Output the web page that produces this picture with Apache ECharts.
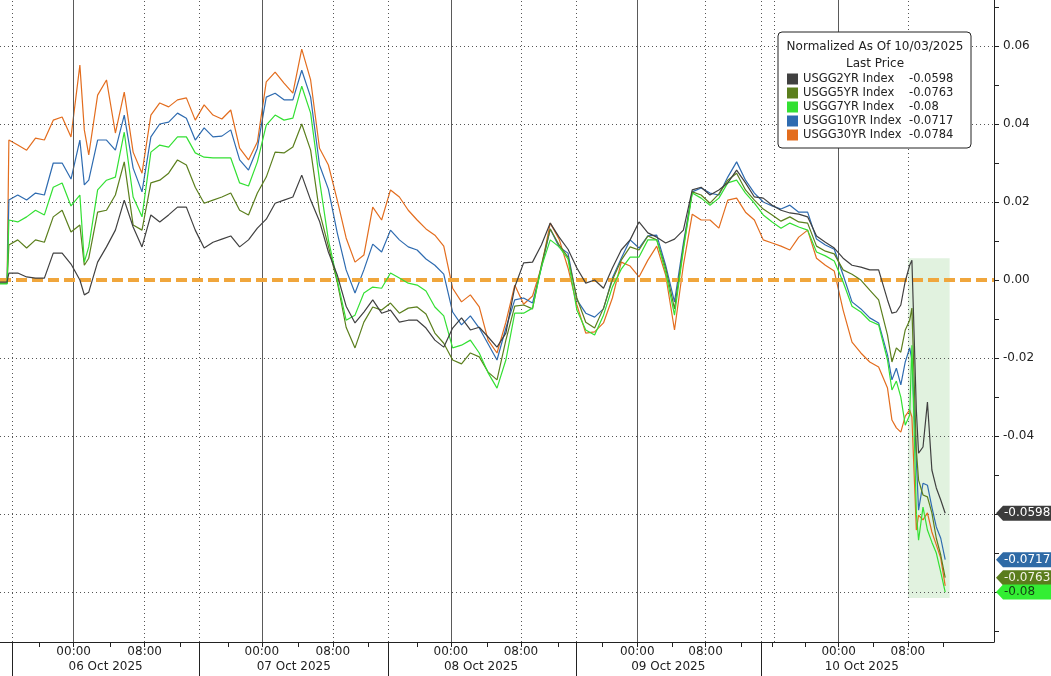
<!DOCTYPE html>
<html>
<head>
<meta charset="utf-8">
<script src="https://cdn.jsdelivr.net/npm/echarts@6/dist/echarts.min.js"></script>
<style>
html,body{margin:0;padding:0;background:#ffffff;}
#chart{width:1051px;height:676px;}
</style>
</head>
<body>
<div id="chart"></div>
<script>
// ---- time axis (session hours, gaps removed) ----
const hours = [0, 0.8, 1, 2, 3, 4, 5, 6, 7, 8, 9, 9.5,
  10, 11, 12, 13, 14, 15, 16, 17, 18, 19,
  20, 21, 22, 23, 24, 25, 26, 27, 28, 29,
  30, 31, 32, 33, 34, 35, 36, 37, 38, 39,
  40, 41, 42, 43, 44, 45, 46, 47, 48, 49,
  50, 51, 52, 53, 54, 55, 56, 57, 58, 59,
  60, 61, 62, 63, 64, 65, 66, 67, 68, 69,
  70, 71, 72, 73, 74, 75, 76, 77, 78, 79,
  80, 81, 82, 83, 84, 85, 86, 87, 88, 89,
  90, 91, 92, 93, 94, 95, 96, 97, 98, 99,
  100, 100.5, 101, 101.5, 102, 102.5, 102.75, 103.25, 103.5, 104, 104.5, 105, 105.5, 106, 106.5];

// ---- series values (normalized yield change as of 10/03/2025) ----
const usgg30 = [-0.0005, -0.0005, 0.0359, 0.0346, 0.0333, 0.0364, 0.0359, 0.0410, 0.0418, 0.0367, 0.0551, 0.0385,
  0.0321, 0.0474, 0.0513, 0.0377, 0.0482, 0.0328, 0.0274, 0.0423, 0.0454, 0.0444,
  0.0462, 0.0467, 0.0410, 0.0449, 0.0423, 0.0413, 0.0436, 0.0338, 0.0308, 0.0354,
  0.0508, 0.0533, 0.0505, 0.0479, 0.0592, 0.0513, 0.0338, 0.0295, 0.0205, 0.0108,
  0.0046, 0.0064, 0.0187, 0.0154, 0.0231, 0.0213, 0.0179, 0.0154, 0.0131, 0.0115,
  0.0087, -0.0021, -0.0056, -0.0038, -0.0069, -0.0154, -0.0187, -0.0108, -0.0013, -0.0062,
  -0.0041, 0.0033, 0.0146, 0.0105, 0.0031, -0.0064, -0.0136, -0.0133, -0.0110, -0.0046,
  0.0046, 0.0036, 0.0008, 0.0051, 0.0087, 0.0013, -0.0128, 0.0038, 0.0169, 0.0154,
  0.0154, 0.0133, 0.0205, 0.0210, 0.0174, 0.0154, 0.0103, 0.0095, 0.0087, 0.0077,
  0.0110, 0.0128, 0.0056, 0.0038, 0.0023, -0.0077, -0.0159, -0.0187, -0.0210, -0.0223,
  -0.0277, -0.0359, -0.0379, -0.0390, -0.0349, -0.0333, -0.0351, -0.0641, -0.0603, -0.0615, -0.0597, -0.0646, -0.0679, -0.0713, -0.0784];

const usgg10 = [-0.0008, -0.0008, 0.0205, 0.0218, 0.0205, 0.0223, 0.0218, 0.0300, 0.0300, 0.0259, 0.0359, 0.0244,
  0.0256, 0.0359, 0.0359, 0.0333, 0.0423, 0.0287, 0.0226, 0.0367, 0.0400, 0.0405,
  0.0428, 0.0415, 0.0359, 0.0390, 0.0367, 0.0369, 0.0385, 0.0308, 0.0282, 0.0338,
  0.0469, 0.0479, 0.0462, 0.0462, 0.0538, 0.0469, 0.0295, 0.0233, 0.0121, 0.0026,
  -0.0033, 0.0026, 0.0092, 0.0072, 0.0128, 0.0103, 0.0085, 0.0077, 0.0054, 0.0038,
  0.0015, -0.0082, -0.0115, -0.0092, -0.0123, -0.0164, -0.0205, -0.0123, -0.0051, -0.0046,
  -0.0059, 0.0031, 0.0131, 0.0085, 0.0069, -0.0051, -0.0085, -0.0095, -0.0074, 0.0005,
  0.0056, 0.0103, 0.0082, 0.0113, 0.0115, 0.0038, -0.0056, 0.0095, 0.0226, 0.0236,
  0.0223, 0.0218, 0.0264, 0.0303, 0.0256, 0.0223, 0.0200, 0.0190, 0.0182, 0.0192,
  0.0174, 0.0174, 0.0105, 0.0090, 0.0079, 0.0013, -0.0056, -0.0074, -0.0097, -0.0110,
  -0.0192, -0.0256, -0.0226, -0.0269, -0.0210, -0.0174, -0.0205, -0.0462, -0.0590, -0.0521, -0.0526, -0.0582, -0.0633, -0.0662, -0.0717];

const usgg7 = [-0.0010, -0.0010, 0.0154, 0.0149, 0.0162, 0.0179, 0.0167, 0.0238, 0.0249, 0.0190, 0.0218, 0.0046,
  0.0085, 0.0231, 0.0256, 0.0264, 0.0379, 0.0213, 0.0162, 0.0328, 0.0346, 0.0341,
  0.0367, 0.0367, 0.0326, 0.0315, 0.0313, 0.0313, 0.0313, 0.0249, 0.0241, 0.0303,
  0.0397, 0.0423, 0.0410, 0.0415, 0.0497, 0.0428, 0.0256, 0.0103, 0.0000, -0.0103,
  -0.0090, -0.0033, -0.0018, -0.0021, 0.0018, 0.0005, -0.0008, -0.0013, -0.0028, -0.0069,
  -0.0092, -0.0174, -0.0167, -0.0154, -0.0187, -0.0238, -0.0277, -0.0205, -0.0085, -0.0085,
  -0.0072, 0.0033, 0.0103, 0.0085, 0.0054, -0.0077, -0.0128, -0.0141, -0.0090, -0.0018,
  0.0028, 0.0059, 0.0059, 0.0103, 0.0103, 0.0021, -0.0090, 0.0077, 0.0223, 0.0210,
  0.0192, 0.0210, 0.0249, 0.0256, 0.0223, 0.0197, 0.0167, 0.0149, 0.0133, 0.0146,
  0.0136, 0.0128, 0.0072, 0.0062, 0.0049, -0.0005, -0.0067, -0.0082, -0.0105, -0.0115,
  -0.0205, -0.0282, -0.0259, -0.0300, -0.0372, -0.0346, -0.0167, -0.0597, -0.0667, -0.0582, -0.0641, -0.0672, -0.0700, -0.0749, -0.0800];

const usgg5 = [-0.0008, -0.0008, 0.0090, 0.0103, 0.0082, 0.0103, 0.0097, 0.0162, 0.0179, 0.0123, 0.0141, 0.0038,
  0.0056, 0.0174, 0.0179, 0.0218, 0.0303, 0.0141, 0.0128, 0.0249, 0.0256, 0.0274,
  0.0308, 0.0295, 0.0238, 0.0197, 0.0205, 0.0213, 0.0223, 0.0179, 0.0167, 0.0223,
  0.0264, 0.0328, 0.0326, 0.0341, 0.0400, 0.0333, 0.0174, 0.0087, -0.0005, -0.0121,
  -0.0174, -0.0108, -0.0069, -0.0077, -0.0059, -0.0085, -0.0072, -0.0069, -0.0087, -0.0136,
  -0.0162, -0.0205, -0.0215, -0.0187, -0.0197, -0.0236, -0.0256, -0.0154, -0.0067, -0.0064,
  -0.0074, 0.0038, 0.0131, 0.0090, 0.0059, -0.0046, -0.0108, -0.0123, -0.0072, 0.0000,
  0.0051, 0.0085, 0.0077, 0.0113, 0.0103, 0.0031, -0.0074, 0.0085, 0.0226, 0.0218,
  0.0197, 0.0221, 0.0256, 0.0274, 0.0231, 0.0205, 0.0182, 0.0167, 0.0151, 0.0162,
  0.0149, 0.0146, 0.0087, 0.0074, 0.0067, 0.0026, 0.0015, 0.0000, -0.0026, -0.0051,
  -0.0141, -0.0210, -0.0174, -0.0185, -0.0128, -0.0103, -0.0072, -0.0436, -0.0513, -0.0551, -0.0556, -0.0597, -0.0662, -0.0705, -0.0763];

const usgg2 = [-0.0005, -0.0005, 0.0018, 0.0018, 0.0008, 0.0005, 0.0005, 0.0069, 0.0069, 0.0041, 0.0000, -0.0038,
  -0.0031, 0.0046, 0.0085, 0.0128, 0.0205, 0.0136, 0.0085, 0.0167, 0.0149, 0.0167,
  0.0187, 0.0187, 0.0128, 0.0082, 0.0097, 0.0105, 0.0113, 0.0085, 0.0103, 0.0133,
  0.0156, 0.0197, 0.0205, 0.0213, 0.0269, 0.0205, 0.0151, 0.0072, 0.0013, -0.0067,
  -0.0110, -0.0082, -0.0051, -0.0085, -0.0077, -0.0108, -0.0103, -0.0103, -0.0123, -0.0154,
  -0.0172, -0.0123, -0.0097, -0.0128, -0.0121, -0.0146, -0.0172, -0.0136, -0.0018, 0.0044,
  0.0046, 0.0090, 0.0146, 0.0110, 0.0079, 0.0031, -0.0008, 0.0000, -0.0021, 0.0031,
  0.0077, 0.0103, 0.0149, 0.0121, 0.0110, 0.0095, 0.0105, 0.0128, 0.0231, 0.0238,
  0.0218, 0.0231, 0.0249, 0.0282, 0.0249, 0.0213, 0.0210, 0.0192, 0.0179, 0.0172,
  0.0169, 0.0162, 0.0113, 0.0097, 0.0082, 0.0056, 0.0038, 0.0033, 0.0026, 0.0026,
  -0.0051, -0.0085, -0.0082, -0.0064, -0.0003, 0.0038, 0.0051, -0.0333, -0.0444, -0.0428, -0.0313, -0.0487, -0.0533, -0.0564, -0.0598];

// ---- axis ticks / labels ----
const midnights = [8.3, 29.5, 50.8, 71.8, 94.5];
const eights = [16.3, 37.5, 58.7, 79.5, 102.3];
const sessionSeps = [1.35, 22.5, 43.7, 64.9, 85.8];
const extraDotted = [87.2];
const fourHourTicks = [4.4, 8.3, 12.4, 16.3, 20.3, 25.7, 29.5, 33.6, 37.5, 41.5,
  47.0, 50.8, 54.9, 58.7, 62.9, 67.9, 71.8, 75.7, 79.5, 83.5, 87.0,
  90.7, 94.5, 98.4, 102.3, 106.3];
const dayCenters = [11.9, 33.1, 54.2, 75.3, 97.1];
const dayLabels = ['06 Oct 2025', '07 Oct 2025', '08 Oct 2025', '09 Oct 2025', '10 Oct 2025'];
const yLabelValues = [-0.08, -0.06, -0.04, -0.02, 0, 0.02, 0.04, 0.06];
const yTickValues = [-0.09, -0.08, -0.07, -0.06, -0.05, -0.04, -0.03, -0.02, -0.01, 0, 0.01, 0.02, 0.03, 0.04, 0.05, 0.06, 0.07];
const highlightBox = { x0: 102.3, x1: 107.0, y0: 0.0056, y1: -0.0815 };

const seriesNames = ['USGG2YR', 'USGG5YR', 'USGG7YR', 'USGG10YR', 'USGG30YR'];
const lastPrices = { USGG2YR: -0.0598, USGG5YR: -0.0763, USGG7YR: -0.08, USGG10YR: -0.0717, USGG30YR: -0.0784 };
const seriesValues = { USGG2YR: usgg2, USGG5YR: usgg5, USGG7YR: usgg7, USGG10YR: usgg10, USGG30YR: usgg30 };
const colors = { USGG2YR: '#404040', USGG5YR: '#5b7f1d', USGG7YR: '#33e033', USGG10YR: '#2e6bb0', USGG30YR: '#e36d1e' };
const tagColors = { USGG2YR: '#3c3c3c', USGG5YR: '#5a7d1c', USGG7YR: '#33ee33', USGG10YR: '#2e6aa6' };
const tagText = { USGG2YR: '#ffffff', USGG5YR: '#f2f2e6', USGG7YR: '#143c14', USGG10YR: '#ffffff' };

seriesNames.forEach(n => { if (seriesValues[n].length !== hours.length) throw new Error(n + ' length ' + seriesValues[n].length + ' vs ' + hours.length); });

const FONT = 'DejaVu Sans';
const chart = echarts.init(document.getElementById('chart'), null, { renderer: 'canvas' });

const dotted = { color: '#555', type: [1, 3], width: 1 };
const gridLines = []
  .concat(midnights.map(h => ({ xAxis: h, lineStyle: { color: '#5a5a5a', type: 'solid', width: 1 } })))
  .concat(eights.concat(sessionSeps, extraDotted).map(h => ({ xAxis: h, lineStyle: dotted })))
  .concat(yLabelValues.filter(v => v !== 0).map(v => ({ yAxis: v, lineStyle: dotted })));

const drawOrder = ['USGG30YR', 'USGG10YR', 'USGG5YR', 'USGG7YR', 'USGG2YR'];
const lineSeries = drawOrder.map((name, i) => ({
  name: name,
  type: 'line',
  data: hours.map((h, k) => [h, seriesValues[name][k]]),
  showSymbol: false,
  symbol: 'none',
  color: colors[name],
  lineStyle: { color: colors[name], width: 1.2 },
  z: 3 + i,
  animation: false
}));

// 30YR tag sits hidden behind the others in the reference, so only these are drawn
const tagOrder = ['USGG10YR', 'USGG5YR', 'USGG7YR', 'USGG2YR'];

const option = {
  backgroundColor: '#ffffff',
  animation: false,
  textStyle: { fontFamily: FONT },
  grid: { left: 0, right: 57, top: 0, bottom: 34, containLabel: false },
  xAxis: [
    {
      type: 'value', min: 0, max: 112, position: 'bottom',
      axisLine: { show: true, onZero: false, lineStyle: { color: '#222', width: 1 } },
      axisTick: { show: true, customValues: fourHourTicks, length: 5, lineStyle: { color: '#222' } },
      axisLabel: {
        customValues: midnights.concat(eights),
        formatter: v => (midnights.indexOf(v) >= 0 ? '00:00' : '08:00'),
        margin: 4, fontFamily: FONT, fontSize: 12, color: '#222'
      },
      splitLine: { show: false }
    },
    {
      type: 'value', min: 0, max: 112, position: 'bottom',
      axisLine: { show: false, onZero: false },
      axisTick: { show: true, customValues: sessionSeps, length: 34, lineStyle: { color: '#222' } },
      axisLabel: {
        customValues: dayCenters,
        formatter: v => dayLabels[dayCenters.indexOf(v)],
        margin: 19, fontFamily: FONT, fontSize: 12, color: '#222'
      },
      splitLine: { show: false }
    }
  ],
  yAxis: {
    type: 'value', position: 'right', min: -0.0928, max: 0.0718,
    axisLine: { show: true, onZero: false, lineStyle: { color: '#222', width: 1 } },
    axisTick: { show: true, customValues: yTickValues, length: 5, lineStyle: { color: '#222' } },
    axisLabel: {
      customValues: yLabelValues,
      formatter: v => v.toFixed(2),
      margin: 9, fontFamily: FONT, fontSize: 12, color: '#222'
    },
    splitLine: { show: false }
  },
  legend: {
    data: seriesNames,
    orient: 'vertical',
    left: 778, top: 32,
    padding: [41, 6, 7, 9],
    itemWidth: 11, itemHeight: 11, itemGap: 2,
    icon: 'rect',
    selectedMode: false,
    backgroundColor: '#ffffff',
    borderColor: '#222', borderWidth: 1, borderRadius: 4,
    textStyle: {
      fontFamily: FONT, fontSize: 11.5, color: '#222',
      rich: {
        n: { width: 106, fontFamily: FONT, fontSize: 11.5, color: '#222', lineHeight: 14 },
        v: { width: 56, fontFamily: FONT, fontSize: 11.5, color: '#222', lineHeight: 14 }
      }
    },
    formatter: name => '{n|' + name + ' Index}{v|' + String(lastPrices[name]) + '}',
    z: 20
  },
  graphic: [
    { type: 'text', x: 875, y: 47, z: 100,
      style: { text: 'Normalized As Of 10/03/2025', textAlign: 'center', textVerticalAlign: 'middle', verticalAlign: 'middle', font: '12px "DejaVu Sans"', fill: '#222' } },
    { type: 'text', x: 875, y: 64, z: 100,
      style: { text: 'Last Price', textAlign: 'center', textVerticalAlign: 'middle', verticalAlign: 'middle', font: '12px "DejaVu Sans"', fill: '#222' } }
  ],
  series: [
    {
      name: '_grid', type: 'line', data: [], z: 1, silent: true, animation: false,
      markLine: { silent: true, symbol: ['none', 'none'], label: { show: false }, animation: false, data: gridLines },
      markArea: {
        silent: true, animation: false,
        itemStyle: { color: 'rgba(200, 232, 196, 0.55)' },
        data: [[{ xAxis: highlightBox.x0, yAxis: highlightBox.y0 }, { xAxis: highlightBox.x1, yAxis: highlightBox.y1 }]]
      }
    }
  ].concat(lineSeries).concat([
    {
      name: '_zero', type: 'line', data: [], z: 10, silent: true, animation: false,
      markLine: {
        silent: true, symbol: ['none', 'none'], label: { show: false }, animation: false,
        data: [{ yAxis: 0 }],
        lineStyle: { color: '#F0A63C', width: 4, type: [11, 5] }
      }
    },
    {
      name: '_tags', type: 'line', data: [], z: 12, silent: true, animation: false, clip: false,
      markPoint: {
        silent: true, animation: false,
        symbol: 'path://M0,7 L7,0 L60,0 L60,14 L7,14 Z',
        symbolSize: [60, 15],
        symbolOffset: [32, 0],
        symbolKeepAspect: false,
        data: tagOrder.map(name => ({
          coord: [112, lastPrices[name]],
          itemStyle: { color: tagColors[name] },
          label: {
            show: true, position: 'insideLeft', distance: 8,
            formatter: String(lastPrices[name]),
            color: tagText[name], fontFamily: FONT, fontSize: 12
          }
        }))
      }
    }
  ])
};

chart.setOption(option);
</script>
</body>
</html>
